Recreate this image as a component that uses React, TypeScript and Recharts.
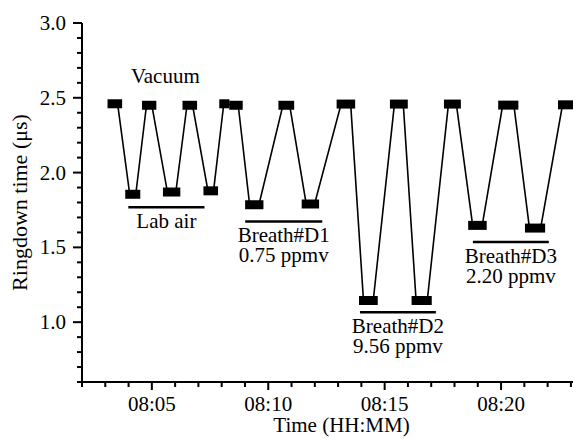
import React from 'react'
import { ComposedChart, Line, Scatter, XAxis, YAxis } from 'recharts'

// plateau centres of the ringdown trace, time in minutes after midnight (482 = 08:02)
const plateauStart = [483.29, 484.05, 484.77, 485.67, 486.51, 487.41, 488.09, 488.52, 489.2, 490.63, 491.63, 493.13, 494.09, 495.42, 496.35, 497.74, 498.78, 500.07, 501.22, 502.64]
const plateauEnd = [483.53, 484.31, 485.0, 486.03, 486.75, 487.65, 488.14, 488.71, 489.6, 490.92, 491.99, 493.54, 494.51, 495.8, 496.83, 498.08, 499.19, 500.55, 501.7, 503.3]
const ringdown = [2.46, 1.855, 2.45, 1.87, 2.45, 1.878, 2.46, 2.45, 1.785, 2.45, 1.79, 2.458, 1.145, 2.458, 1.145, 2.458, 1.647, 2.451, 1.629, 2.453]

// sample groups drawn as bars under the dips
const groupNames = ['Lab air', 'Breath#D1', 'Breath#D2', 'Breath#D3']
const groupConc = ['', '0.75 ppmv', '9.56 ppmv', '2.20 ppmv']
const groupStart = [483.99, 489.01, 493.94, 498.79]
const groupEnd = [487.26, 492.32, 497.2, 502.05]
const groupLevel = [1.768, 1.673, 1.067, 1.536]

const vacuumLabel = 'Vacuum'
const vacuumAt = [485.58, 2.6]

const xTicks = Array.from({ length: 22 }, (_, i) => 482 + i)
const yTicks = [0.6, 0.7, 0.8, 0.9, 1.0, 1.1, 1.2, 1.3, 1.4, 1.5, 1.6, 1.7, 1.8, 1.9, 2.0, 2.1, 2.2, 2.3, 2.4, 2.5, 2.6, 2.7, 2.8, 2.9, 3.0]

const FONT = 'Liberation Serif, DejaVu Serif, serif'

function hhmm(m: number) {
  const h = Math.floor(m / 60)
  const mm = m % 60
  return `${h.toString().padStart(2, '0')}:${mm.toString().padStart(2, '0')}`
}

function XTick(props: any) {
  const { x, y, payload } = props
  const m = Number(payload.value)
  const major = m % 5 === 0
  return (
    <g>
      <line x1={x} x2={x} y1={y} y2={y + (major ? 8 : 5)} stroke="#000" strokeWidth={2} />
      {major && (
        <text x={x} y={y + 29} textAnchor="middle" fontFamily={FONT} fontSize={21} fill="#000">
          {hhmm(m)}
        </text>
      )}
    </g>
  )
}

function YTick(props: any) {
  const { x, y, payload } = props
  const v = Number(payload.value)
  const major = Math.abs(v * 2 - Math.round(v * 2)) < 1e-6 && v >= 1
  return (
    <g>
      <line x1={x - (major ? 9 : 5)} x2={x} y1={y} y2={y} stroke="#000" strokeWidth={2} />
      {major && (
        <text x={x - 16} y={y + 7} textAnchor="end" fontFamily={FONT} fontSize={21} fill="#000">
          {v.toFixed(1)}
        </text>
      )}
    </g>
  )
}

export default function App() {
  const trace: Array<{ t: number; v: number }> = []
  plateauStart.forEach((s, i) => {
    trace.push({ t: s, v: ringdown[i] })
    trace.push({ t: plateauEnd[i], v: ringdown[i] })
  })

  const groupLabels = groupNames.map((name, i) => ({
    t: (groupStart[i] + groupEnd[i]) / 2,
    v: groupLevel[i],
    name,
    conc: groupConc[i],
  }))

  return (
    <div style={{ position: 'absolute', left: 0, top: 0, background: '#fff', fontFamily: FONT }}>
      <ComposedChart width={573} height={438} margin={{ top: 23, right: 0, bottom: 0, left: 0 }} style={{ fontFamily: FONT }}>
        <XAxis
          dataKey="t"
          type="number"
          domain={[482, 503.09]}
          allowDataOverflow
          ticks={xTicks}
          interval={0}
          tickSize={0}
          tickMargin={0}
          tickLine={false}
          tick={<XTick />}
          height={56}
          axisLine={{ stroke: '#000', strokeWidth: 2 }}
          label={(p: any) => {
            const vb = p.viewBox
            return (
              <text x={vb.x + vb.width / 2 + 14} y={vb.y + 50} textAnchor="middle" fontFamily={FONT} fontSize={21} fill="#000">
                Time (HH:MM)
              </text>
            )
          }}
        />
        <YAxis
          dataKey="v"
          type="number"
          domain={[0.6, 3.0]}
          allowDataOverflow
          ticks={yTicks}
          interval={0}
          tickSize={0}
          tickMargin={0}
          tickLine={false}
          tick={<YTick />}
          width={82}
          axisLine={{ stroke: '#000', strokeWidth: 2 }}
          label={(p: any) => {
            const vb = p.viewBox
            const cy = vb.y + vb.height / 2
            return (
              <text
                x={19}
                y={cy}
                transform={`rotate(-90, 19, ${cy})`}
                textAnchor="middle"
                dominantBaseline="central"
                fontFamily={FONT}
                fontSize={22}
                fill="#000"
              >
                Ringdown time (μs)
              </text>
            )
          }}
        />
        <Line data={trace} dataKey="v" stroke="#000" strokeWidth={1.6} dot={false} isAnimationActive={false} />
        {plateauStart.map((s, i) => (
          <Line
            key={`p${i}`}
            data={[
              { t: s, v: ringdown[i] },
              { t: plateauEnd[i], v: ringdown[i] },
            ]}
            dataKey="v"
            stroke="#000"
            strokeWidth={9}
            strokeLinecap="square"
            dot={false}
            isAnimationActive={false}
          />
        ))}
        {groupStart.map((s, i) => (
          <Line
            key={`g${i}`}
            data={[
              { t: s, v: groupLevel[i] },
              { t: groupEnd[i], v: groupLevel[i] },
            ]}
            dataKey="v"
            stroke="#000"
            strokeWidth={2.5}
            dot={false}
            isAnimationActive={false}
          />
        ))}
        <Scatter
          data={groupLabels}
          dataKey="v"
          isAnimationActive={false}
          shape={(p: any) => (
            <g>
              <text x={p.cx} y={p.cy + 21} textAnchor="middle" fontFamily={FONT} fontSize={21} fill="#000">
                {p.payload.name}
              </text>
              {p.payload.conc && (
                <text x={p.cx} y={p.cy + 41} textAnchor="middle" fontFamily={FONT} fontSize={21} fill="#000">
                  {p.payload.conc}
                </text>
              )}
            </g>
          )}
        />
        <Scatter
          data={[{ t: vacuumAt[0], v: vacuumAt[1] }]}
          dataKey="v"
          isAnimationActive={false}
          shape={(p: any) => (
            <text x={p.cx} y={p.cy} textAnchor="middle" fontFamily={FONT} fontSize={21} fill="#000">
              {vacuumLabel}
            </text>
          )}
        />
      </ComposedChart>
    </div>
  )
}
